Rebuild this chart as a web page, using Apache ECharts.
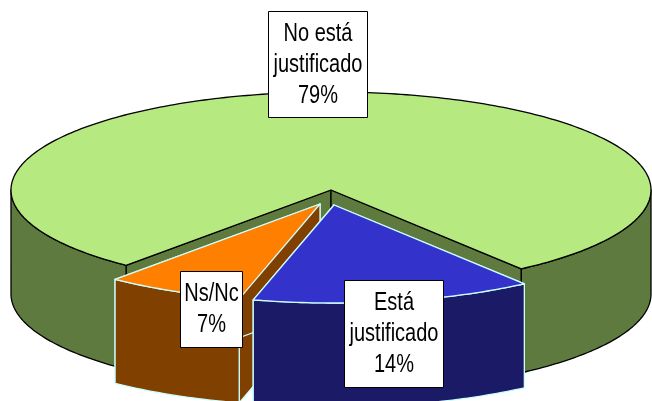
<!DOCTYPE html>
<html lang="es">
<head>
    <meta charset="UTF-8">
    <title>Justificado</title>
    <script type="text/javascript" src="https://cdn.jsdelivr.net/npm/echarts@6/dist/echarts.min.js"></script>
    <style>
        html, body { margin: 0; background: #fff; }
        #container { width: 652px; height: 401px; }
    </style>
</head>
<body>
<div id="container"></div>
<script type="text/javascript">
    // drawn back to front: big slice first, blue one last
    var categories = ['No está\njustificado', 'Ns/Nc', 'Está\njustificado'];
    var values = [78.8, 7.0, 14.2]; // labels round them

    var topColors = ['#B6E97F', '#FF8000', '#3333CC'];
    var wallColors = ['#5E7A3E', '#804000', '#1A1A66'];
    var lineColors = ['#000000', '#CCFFFF', '#CCFFFF'];
    var offsets = [[0, 0], [-11, 14], [3, 15]];
    var labelBoxes = [[268, 11, 99, 106], [180, 271, 62, 76], [344, 280, 99, 107]];

    var cx = 331, cy = 190, rx = 320, ry = 98, depth = 104;
    var endAngle = 503.5; // clockwise from top, where the big slice ends

    var total = values.reduce(function (a, b) { return a + b; }, 0);
    var ranges = [];
    var angle = endAngle;
    values.forEach(function (v) {
        var sweep = echarts.number.linearMap(v, [0, total], [0, 360]);
        ranges.push([angle - sweep, angle]);
        angle -= sweep;
    });

    function pt(a, ox, oy, dy) {
        var r = a * Math.PI / 180;
        return [cx + ox + rx * Math.sin(r), cy + oy - ry * Math.cos(r) + dy];
    }

    function arc(a0, a1, ox, oy, dy) {
        var pts = [];
        var n = Math.max(2, Math.ceil(a1 - a0));
        for (var i = 0; i <= n; i++) {
            pts.push(pt(a0 + (a1 - a0) * i / n, ox, oy, dy));
        }
        return pts;
    }

    function poly(points, fill, line) {
        return {
            type: 'polygon',
            shape: { points: points },
            style: { fill: fill, stroke: line, lineWidth: 1.3, lineJoin: 'round' }
        };
    }

    function renderSlice(params, api) {
        var i = params.dataIndex;
        var r = ranges[i], ox = offsets[i][0], oy = offsets[i][1];
        var wall = wallColors[i], line = lineColors[i];
        var apex = [cx + ox, cy + oy];
        var apexLow = [cx + ox, cy + oy + depth];
        var children = [];

        // the cut faces
        [r[0], r[1]].forEach(function (a) {
            children.push(poly([apex, pt(a, ox, oy, 0), pt(a, ox, oy, depth), apexLow], wall, line));
        });

        // only the front half of the rim shows
        [[90, 270], [450, 630]].forEach(function (front) {
            var a0 = Math.max(r[0], front[0]);
            var a1 = Math.min(r[1], front[1]);
            if (a1 > a0) {
                var upper = arc(a0, a1, ox, oy, 0);
                var lower = arc(a0, a1, ox, oy, depth).reverse();
                children.push(poly(upper.concat(lower), wall, line));
            }
        });

        children.push(poly([apex].concat(arc(r[0], r[1], ox, oy, 0)), topColors[i], line));
        return { type: 'group', children: children };
    }

    function renderLabel(params, api) {
        var i = params.dataIndex;
        var box = labelBoxes[i];
        return {
            type: 'group',
            children: [
                {
                    type: 'rect',
                    shape: { x: box[0] + 0.5, y: box[1] + 0.5, width: box[2], height: box[3] },
                    style: { fill: '#fff', stroke: '#000', lineWidth: 1 }
                },
                {
                    type: 'text',
                    x: box[0] + box[2] / 2 + 0.5,
                    y: box[1] + box[3] / 2 + 1,
                    scaleX: 0.8,
                    style: {
                        text: categories[i] + '\n' + Math.round(api.value(0)) + '%',
                        fill: '#000',
                        font: '25px "Liberation Sans"',
                        lineHeight: 31,
                        align: 'center',
                        verticalAlign: 'middle'
                    }
                }
            ]
        };
    }

    var dom = document.getElementById('container');
    var myChart = echarts.init(dom, null, { renderer: 'canvas' });

    var option = {
        animation: false,
        backgroundColor: '#fff',
        series: [
            { type: 'custom', coordinateSystem: 'none', renderItem: renderSlice, data: values, silent: true, z: 1 },
            { type: 'custom', coordinateSystem: 'none', renderItem: renderLabel, data: values, silent: true, z: 2 }
        ]
    };
    myChart.setOption(option);
</script>
</body>
</html>
